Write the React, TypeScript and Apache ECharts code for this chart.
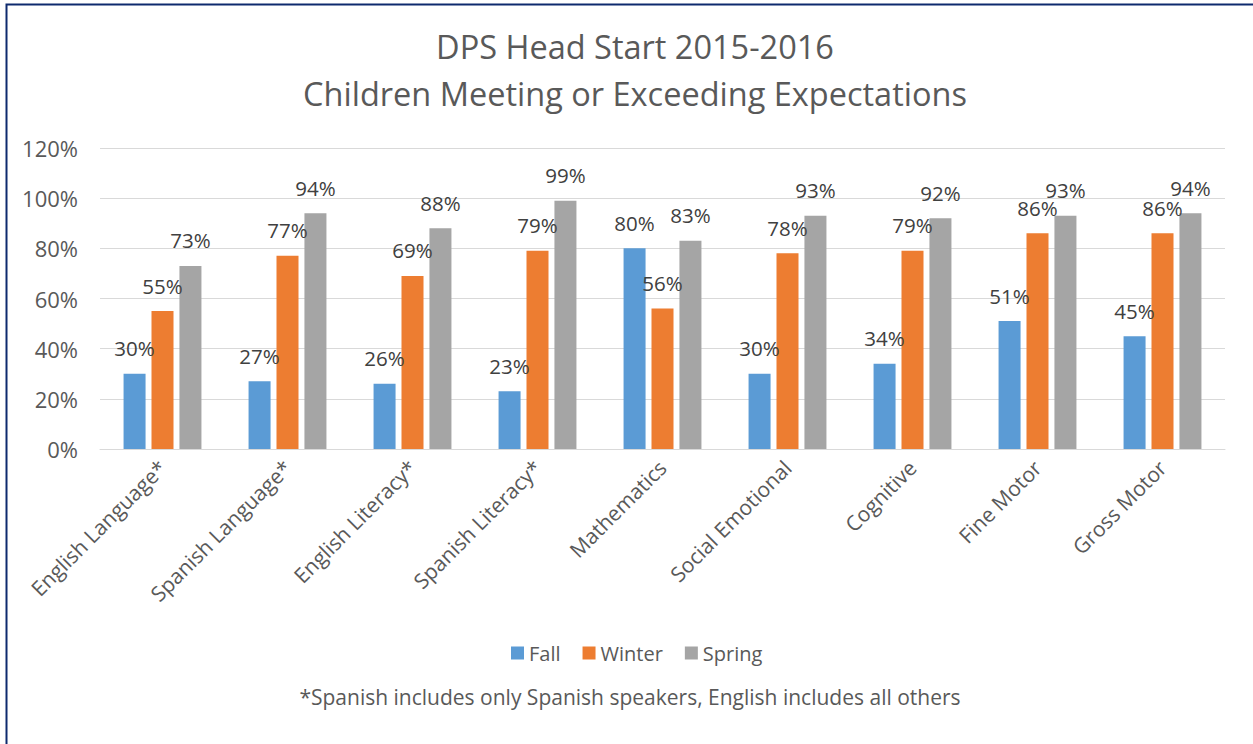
import React, { useEffect, useRef } from "react";
import * as echarts from "echarts";

const categories = [
  "English Language*",
  "Spanish Language*",
  "English Literacy*",
  "Spanish Literacy*",
  "Mathematics",
  "Social Emotional",
  "Cognitive",
  "Fine Motor",
  "Gross Motor",
];
const fall = [30, 27, 26, 23, 80, 30, 34, 51, 45];
const winter = [55, 77, 69, 79, 56, 78, 79, 86, 86];
const spring = [73, 94, 88, 99, 83, 93, 92, 93, 94];
const seriesNames = ["Fall", "Winter", "Spring"];
const colors = ["#5B9BD5", "#ED7D31", "#A5A5A5"];
const titleText = "DPS Head Start 2015-2016\nChildren Meeting or Exceeding Expectations";
const footnote = "*Spanish includes only Spanish speakers, English includes all others";

const FONT = "'Open Sans', Lato, sans-serif";
const TXT = "#595959";

export default function App() {
  const ref = useRef<HTMLDivElement>(null);
  useEffect(() => {
    document.body.style.margin = "0";
    const chart = echarts.init(ref.current!, null, { renderer: "svg" });
    const data = [fall, winter, spring];
    chart.setOption({
      animation: false,
      backgroundColor: "#ffffff",
      textStyle: { fontFamily: FONT },
      title: {
        text: titleText,
        left: 630,
        top: 18,
        textAlign: "center",
        textStyle: {
          fontFamily: FONT,
          fontSize: 32.5,
          fontWeight: "normal",
          color: TXT,
          lineHeight: 47,
        },
      },
      legend: {
        data: seriesNames,
        left: 506,
        top: 638,
        itemWidth: 13,
        itemHeight: 13,
        itemGap: 22,
        icon: "rect",
        textStyle: { fontFamily: FONT, fontSize: 20, color: TXT },
      },
      grid: { left: 100, right: 28, top: 148, bottom: 295, containLabel: false },
      xAxis: {
        type: "category",
        data: categories,
        axisLine: { lineStyle: { color: "#D9D9D9", width: 1 } },
        axisTick: { show: false },
        axisLabel: {
          rotate: 45,
          interval: 0,
          margin: 15,
          fontFamily: FONT,
          fontSize: 21,
          color: TXT,
        },
      },
      yAxis: {
        type: "value",
        min: 0,
        max: 120,
        interval: 20,
        axisLine: { show: false },
        axisTick: { show: false },
        splitLine: { lineStyle: { color: "#D9D9D9", width: 1 } },
        axisLabel: {
          formatter: "{value}%",
          margin: 22,
          fontFamily: FONT,
          fontSize: 22,
          color: TXT,
        },
      },
      series: seriesNames.map((name, i) => ({
        name,
        type: "bar",
        data: data[i],
        barWidth: 22,
        barGap: "27%",
        itemStyle: { color: colors[i] },
        label: {
          show: true,
          position: "top",
          distance: 15,
          formatter: "{c}%",
          fontFamily: FONT,
          fontSize: 20.5,
          color: "#404040",
        },
      })),
      graphic: [
        {
          type: "rect",
          shape: { x: 6.5, y: 4.5, width: 1400, height: 900 },
          style: { fill: "none", stroke: "#0E2A6E", lineWidth: 2 },
          silent: true,
        },
        {
          type: "text",
          x: 630,
          y: 697,
          style: {
            text: footnote,
            fontFamily: FONT,
            fontSize: 21,
            fill: TXT,
            textAlign: "center",
            textVerticalAlign: "middle",
          },
        },
      ],
    });
    return () => chart.dispose();
  }, []);
  return <div ref={ref} style={{ width: 1253, height: 744 }} />;
}
